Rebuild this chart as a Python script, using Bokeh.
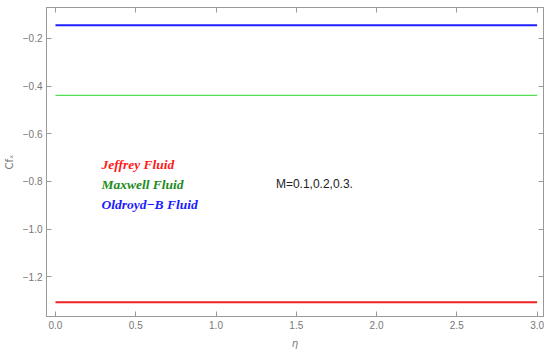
from bokeh.plotting import figure
from bokeh.models import Label, LinearAxis, Range1d, CustomJSTickFormatter
from bokeh.embed import file_html
from bokeh.resources import INLINE

eta = [0.0, 3.0]
jeffrey = [-1.307, -1.307]
maxwell = [-0.439, -0.439]
oldroyd = [-0.145, -0.145]

legend_names = ["Jeffrey Fluid", "Maxwell Fluid", "Oldroyd\u2212B Fluid"]
note = "M=0.1,0.2,0.3."
x_ticks = [0.0, 0.5, 1.0, 1.5, 2.0, 2.5, 3.0]
y_ticks = [-0.2, -0.4, -0.6, -0.8, -1.0, -1.2]

p = figure(width=550, height=352, output_backend="svg", toolbar_location=None,
           x_range=Range1d(-0.056, 3.04), y_range=Range1d(-1.367, -0.07),
           min_border_left=44, min_border_right=7, min_border_top=7, min_border_bottom=36)
p.background_fill_color = "white"
p.border_fill_color = "white"
p.grid.visible = False
p.outline_line_color = "#999999"

line_color_axis = "#999999"

def style(ax):
    ax.axis_line_color = line_color_axis
    ax.major_tick_line_color = line_color_axis
    ax.minor_tick_line_color = line_color_axis
    ax.major_tick_in = 5
    ax.major_tick_out = 0
    ax.minor_tick_in = 3
    ax.minor_tick_out = 0
    ax.major_label_text_color = "#777777"
    ax.major_label_text_font = "Liberation Sans"
    ax.major_label_text_font_size = "10px"
    ax.major_label_standoff = 4

p.xaxis.ticker = x_ticks
p.xaxis.ticker.num_minor_ticks = 5
p.yaxis.ticker = y_ticks
p.yaxis.ticker.num_minor_ticks = 4
p.xaxis.major_label_overrides = {v: f"{v:.1f}" for v in x_ticks}
p.yaxis.major_label_overrides = {v: f"\u2212{abs(v):.1f}" for v in y_ticks}
style(p.xaxis[0])
style(p.yaxis[0])
p.xaxis.axis_label = "\u03b7"
p.yaxis.axis_label = "Cf\u2093"
for ax in (p.xaxis[0], p.yaxis[0]):
    ax.axis_label_text_color = "#777777"
    ax.axis_label_text_font = "DejaVu Sans"
    ax.axis_label_text_font_size = "10px"
    ax.axis_label_text_font_style = "italic"
p.yaxis.axis_label_text_font_style = "normal"
p.yaxis.axis_label_standoff = 5
p.xaxis.axis_label_standoff = 6

blank = CustomJSTickFormatter(code="return '';")
top = LinearAxis(ticker=x_ticks, formatter=blank)
top.ticker.num_minor_ticks = 5
style(top)
top.major_label_standoff = 0
p.add_layout(top, "above")
right = LinearAxis(ticker=y_ticks, formatter=blank)
right.ticker.num_minor_ticks = 4
style(right)
right.major_label_standoff = 0
p.add_layout(right, "right")

p.line(eta, oldroyd, color="#1f1fff", line_width=2)
p.line(eta, maxwell, color="#55dd55", line_width=1.3)
p.line(eta, jeffrey, color="#ee2222", line_width=2)

label_colors = ["#ff1a1a", "#1e8c1e", "#1a1aff"]
label_y = [-0.729, -0.8125, -0.896]
for name, c, yy in zip(legend_names, label_colors, label_y):
    p.add_layout(Label(x=0.286, y=yy, text=name, text_color=c,
                       text_font="Liberation Serif", text_font_style="bold italic",
                       text_font_size="13.5px", text_baseline="middle"))
p.add_layout(Label(x=1.373, y=-0.8125, text=note, text_color="#222222",
                   text_font="Liberation Sans", text_font_size="12px",
                   text_baseline="middle"))

open("out.html", "w").write(file_html(p, INLINE))
